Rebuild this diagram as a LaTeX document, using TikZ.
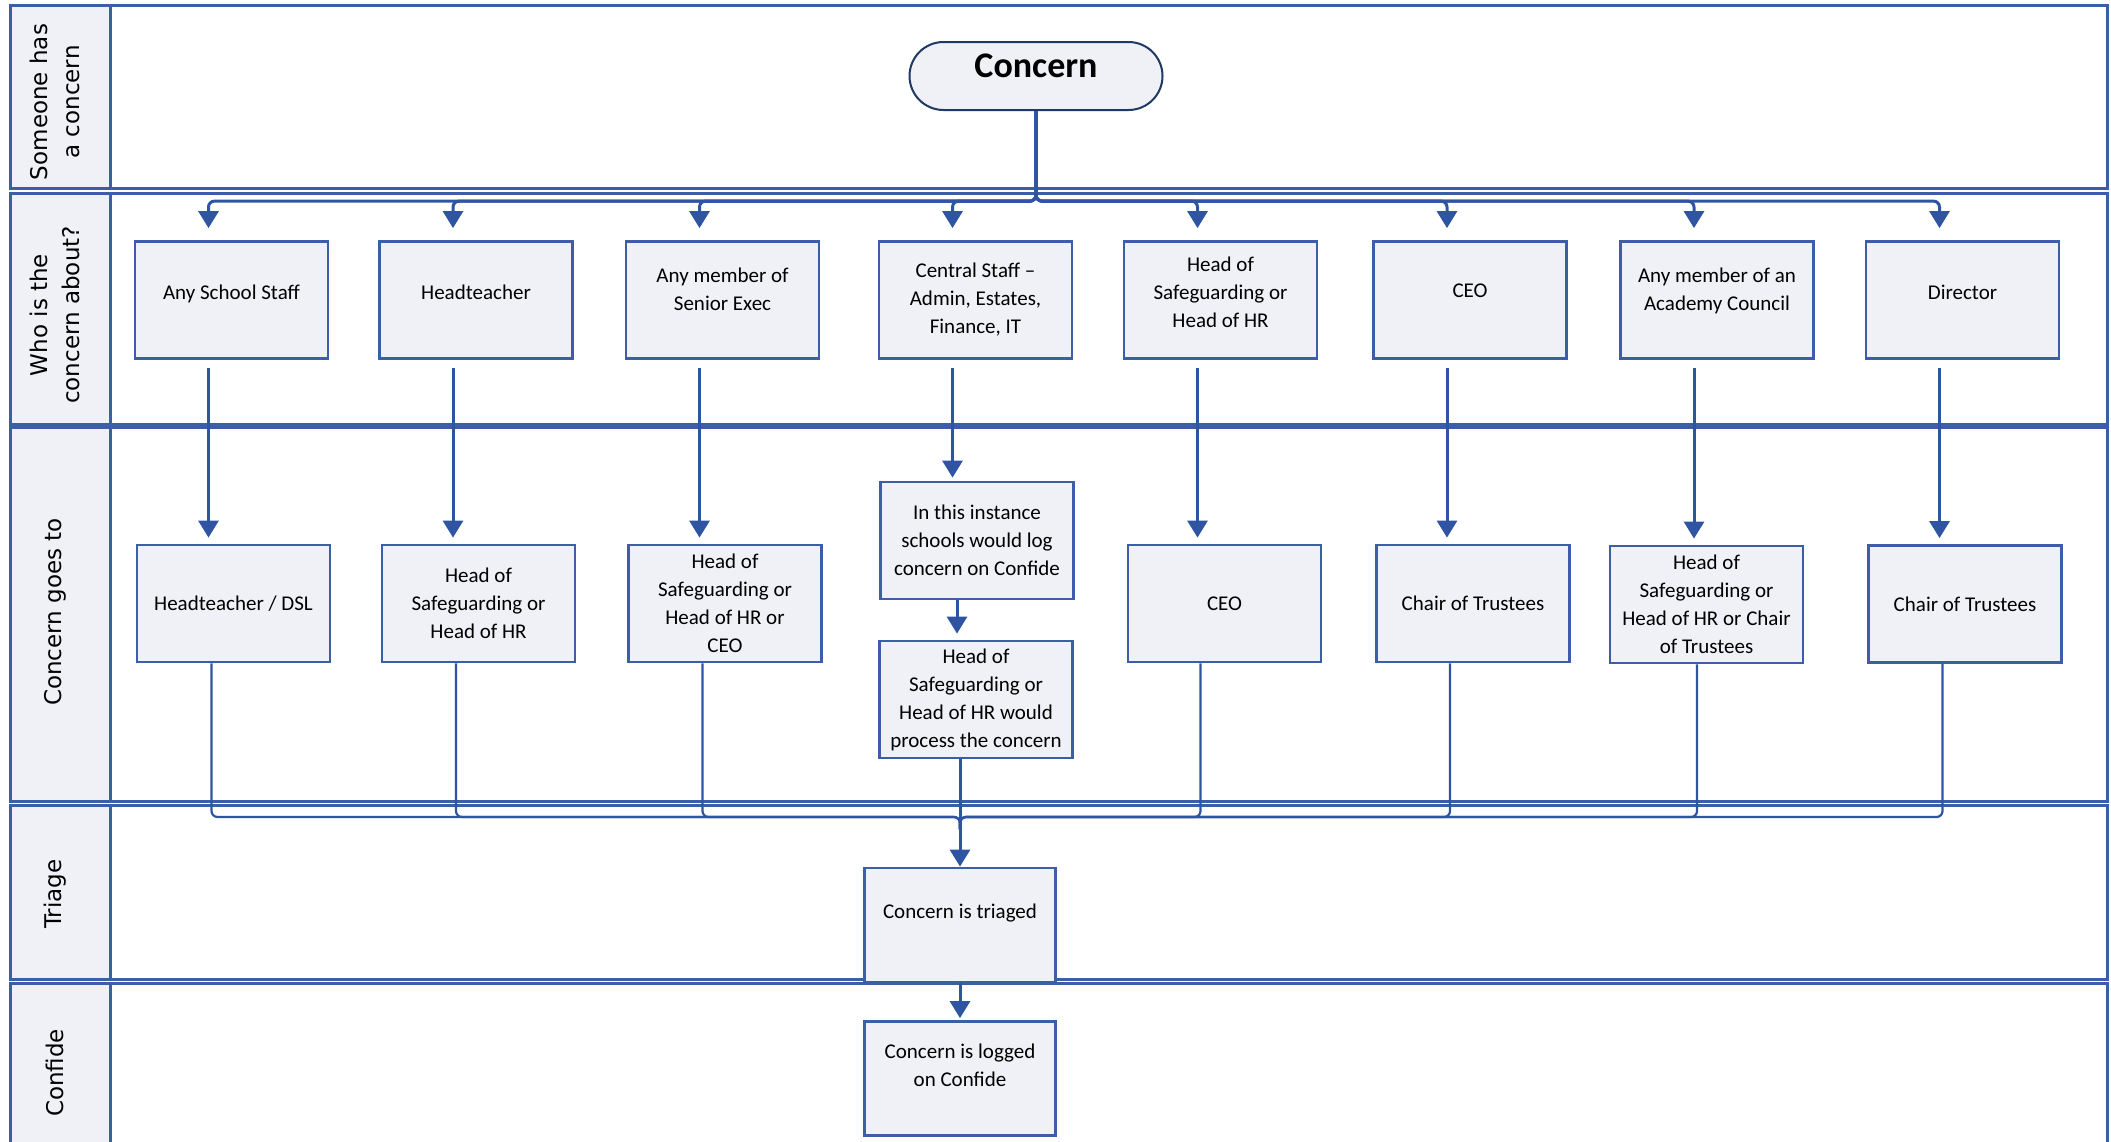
\documentclass[tikz,border=0pt]{standalone}
\usepackage{fontspec}
\setmainfont{Carlito}
\newfontfamily\lanefont{DejaVu Sans}
\usepackage{tikz}
\usetikzlibrary{positioning, calc, arrows.meta}

\definecolor{laneblue}{HTML}{3B5EA6}
\definecolor{boxfill}{HTML}{EFF1F7}
\definecolor{navy}{HTML}{1F3864}
\definecolor{flowblue}{HTML}{2F55A2}

% extra empty line at the bottom, lifts the text a little
\newcommand{\padline}[1]{\\[#1]\mbox{}}

\begin{document}
\begin{tikzpicture}[
    x=1pt, y=-1pt,
    >={Triangle[width=20pt, length=17pt]},
    lane/.style={draw=laneblue, line width=3pt, fill=white},
    lanehead/.style={draw=laneblue, line width=3pt, fill=boxfill},
    lanelbl/.style={rotate=90, align=center, font=\lanefont\fontsize{23}{32}\selectfont},
    blk/.style={draw=laneblue, fill=boxfill, line width=2.8pt, align=center, inner sep=3pt,
                minimum width=193pt, minimum height=117pt, font=\fontsize{21}{28}\selectfont},
    who/.style={blk},
    goes/.style={blk},
    endblk/.style={blk, minimum width=191pt, minimum height=114pt},
    start/.style={draw=navy, fill=boxfill, line width=2pt, rounded corners=34pt, align=center,
                  minimum width=253pt, minimum height=68pt, font=\bfseries\fontsize{36}{40}\selectfont},
    flow/.style={->, draw=flowblue, line width=3pt, rounded corners=6pt},
    feed/.style={draw=flowblue, line width=2.2pt, rounded corners=6pt},
]
\useasboundingbox (0,0) rectangle (2111,1141);

% ─── Swim lanes ───
\draw[lane]     (10,5)   rectangle (2107,188);
\draw[lanehead] (10,5)   rectangle (110,188);
\draw[lane]     (10,193) rectangle (2107,424);
\draw[lanehead] (10,193) rectangle (110,424);
\draw[lane]     (10,427) rectangle (2107,801);
\draw[lanehead] (10,427) rectangle (110,801);
\draw[lane]     (10,805) rectangle (2107,979);
\draw[lanehead] (10,805) rectangle (110,979);
\draw[lane]     (10,983) rectangle (2107,1165);
\draw[lanehead] (10,983) rectangle (110,1165);

\node[lanelbl] at (55,102)  (lblhas)    {Someone has\\a concern};
\node[lanelbl] at (55,315)  (lblwho)    {Who is the\\concern about?};
\node[lanelbl] at (55,612)  (lblgoes)   {Concern goes to};
\node[lanelbl] at (55,894)  (lbltriage) {Triage};
\node[lanelbl] at (55,1073) (lblconf)   {Confide};

% ─── Stage 1: Concern ───
\node[start] at (1036,76) (concern) {Concern\padline{-20pt}};

% ─── Stage 2: Who is the concern about ───
\node[who] at (231.5,300)  (who1) {Any School Staff\padline{-13pt}};
\node[who] at (476,300)    (who2) {Headteacher\padline{-12pt}};
\node[who] at (722.5,300)  (who3) {Any member of\\Senior Exec\padline{-7pt}};
\node[who] at (975.5,300)  (who4) {Central Staff --\\Admin, Estates,\\Finance, IT};
\node[who] at (1220.5,300) (who5) {Head of\\Safeguarding or\\Head of HR\padline{-12pt}};
\node[who] at (1470,300)   (who6) {CEO\padline{-10pt}};
\node[who] at (1717,300)   (who7) {Any member of an\\Academy Council\padline{-7pt}};
\node[who] at (1962.5,300) (who8) {Director\padline{-12pt}};

% ─── Stage 3: Concern goes to ───
\node[goes] at (233.5,603.5) (goes1) {Headteacher / DSL};
\node[goes] at (478.5,603.5) (goes2) {Head of\\Safeguarding or\\Head of HR};
\node[goes] at (725,603.5)   (goes3) {Head of\\Safeguarding or\\Head of HR or\\CEO};
\node[goes] at (977,540.5)   (log)   {In this instance\\schools would log\\concern on Confide};
\node[goes] at (976,699.5)   (proc)  {Head of\\Safeguarding or\\Head of HR would\\process the concern};
\node[goes] at (1224.5,603.5) (goes5) {CEO};
\node[goes] at (1473,603.5)  (goes6) {Chair of Trustees};
\node[goes] at (1706.5,604.5) (goes7) {Head of\\Safeguarding or\\Head of HR or Chair\\of Trustees};
\node[goes] at (1965,604)    (goes8) {Chair of Trustees};

% ─── Stage 4/5: Triage and Confide ───
\node[endblk] at (960,925)    (triage) {Concern is triaged\padline{-1pt}};
\node[endblk] at (960,1078.5) (logged) {Concern is logged\\on Confide\padline{-1pt}};

% ─── Flows ───
\foreach \n in {1,...,8}
    \draw[flow] (concern.south) |- ([xshift=-23pt, yshift=39pt]who\n.north) -- ([xshift=-23pt, yshift=12pt]who\n.north);

\foreach \n in {1,2,3,5,6,7,8}
    \draw[flow, shorten >=6pt] ([xshift=-23pt, yshift=-8pt]who\n.south) -- ([xshift=-23pt]who\n.south |- goes\n.north);
\draw[flow, shorten >=3pt] ([xshift=-23pt, yshift=-8pt]who4.south) -- ([xshift=-23pt]who4.south |- log.north);
\draw[flow, shorten >=6pt] ([xshift=-20pt]log.south) -- ([xshift=-20pt]log.south |- proc.north);

% everything gathers above the triage box
\coordinate (merge) at (960,817);
\foreach \n in {1,2,3,5,6,7,8}
    \draw[feed] ([xshift=-20pt]who\n.south |- goes\n.south) |- (merge) -- ++(0,12);
\draw[flow] ([xshift=-16pt]proc.south) -- (triage.north);
\draw[flow, shorten >=2pt] (triage.south) -- (logged.north);

\end{tikzpicture}
\end{document}
